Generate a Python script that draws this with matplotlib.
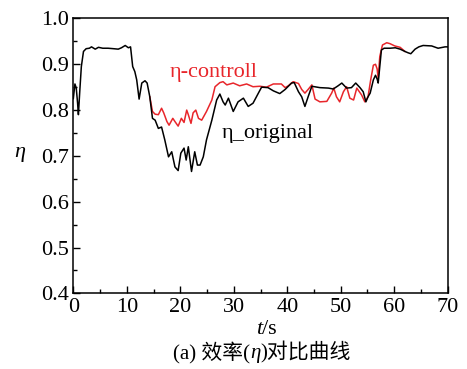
import matplotlib
matplotlib.use('Agg')
import matplotlib.pyplot as plt
from matplotlib.ticker import MultipleLocator
from matplotlib.offsetbox import TextArea, HPacker, AnchoredOffsetbox

# original efficiency curve (black)
t_orig = [0.0, 0.3, 0.55, 0.8, 0.95, 1.2, 1.5, 1.9, 2.4, 3.0, 3.4, 4.1, 4.7, 5.5, 6.5,
          7.5, 8.4, 9.0, 9.7, 10.3, 10.7, 11.1, 11.5, 11.85, 12.3, 12.8, 13.4, 13.8,
          14.3, 14.8, 15.3, 15.9, 16.5, 17.1, 17.8, 18.4, 19.0, 19.6, 20.1, 20.7, 21.1,
          21.5, 22.1, 22.7, 23.2, 23.7, 24.3, 24.9, 25.9, 26.8, 27.4, 28.0, 28.4, 29.0,
          29.9, 30.8, 31.8, 32.7, 33.6, 34.6, 35.2, 36.4, 37.4, 38.6, 39.6, 40.8, 41.3,
          42.1, 42.7, 43.3, 43.9, 44.6, 46.1, 47.7, 48.6, 49.5, 50.2, 51.1, 52.0, 52.8,
          53.6, 54.2, 54.7, 55.1, 55.5, 56.1, 56.5, 56.8, 57.0, 57.3, 57.6, 58.1, 59.2,
          60.2, 61.1, 62.0, 62.6, 63.1, 63.9, 64.6, 65.4, 67.0, 68.2, 69.5, 70.0]
eta_orig = [0.825, 0.857, 0.848, 0.815, 0.790, 0.840, 0.895, 0.928, 0.934, 0.935, 0.938,
            0.933, 0.937, 0.935, 0.935, 0.934, 0.933, 0.936, 0.941, 0.936, 0.938, 0.895,
            0.884, 0.866, 0.824, 0.859, 0.864, 0.859, 0.829, 0.782, 0.778, 0.760, 0.763,
            0.735, 0.698, 0.709, 0.676, 0.668, 0.706, 0.717, 0.691, 0.720, 0.666, 0.709,
            0.680, 0.680, 0.698, 0.735, 0.778, 0.822, 0.835, 0.818, 0.811, 0.826, 0.797,
            0.818, 0.826, 0.808, 0.815, 0.837, 0.850, 0.849, 0.842, 0.836, 0.845, 0.859,
            0.860, 0.840, 0.829, 0.808, 0.829, 0.852, 0.849, 0.848, 0.846, 0.853, 0.859,
            0.848, 0.849, 0.859, 0.849, 0.840, 0.818, 0.829, 0.837, 0.866, 0.876, 0.868,
            0.859, 0.895, 0.931, 0.935, 0.935, 0.936, 0.933, 0.928, 0.925, 0.923, 0.933,
            0.938, 0.941, 0.940, 0.935, 0.938, 0.938]

# controlled efficiency curve (red), only where it leaves the black one
t_ctrl = [14.3, 14.8, 15.3, 15.9, 16.5, 16.9, 17.5, 17.9, 18.6, 19.0, 19.6, 20.2, 20.7,
          21.2, 21.5, 22.0, 22.4, 22.9, 23.4, 24.0, 24.9, 25.9, 26.5, 27.4, 28.0, 28.7,
          29.9, 31.1, 32.4, 33.6, 34.9, 36.1, 37.4, 38.9, 39.6, 40.2, 41.1, 42.1, 42.7,
          43.3, 43.9, 44.6, 45.2, 46.1, 47.4, 48.3, 48.7, 49.2, 49.8, 50.5, 51.1, 51.7,
          52.4, 53.0, 53.9, 54.5, 55.1, 55.6, 56.1, 56.5, 56.8, 57.0, 57.3, 57.8, 58.6,
          59.2, 60.1, 61.1, 62.0]
eta_ctrl = [0.829, 0.797, 0.791, 0.790, 0.804, 0.794, 0.775, 0.767, 0.782, 0.775, 0.765,
            0.782, 0.773, 0.800, 0.790, 0.771, 0.794, 0.800, 0.782, 0.778, 0.797, 0.822,
            0.851, 0.860, 0.862, 0.855, 0.859, 0.853, 0.857, 0.851, 0.852, 0.850, 0.857,
            0.857, 0.849, 0.853, 0.862, 0.858, 0.845, 0.837, 0.845, 0.855, 0.824, 0.818,
            0.819, 0.837, 0.848, 0.829, 0.818, 0.840, 0.851, 0.826, 0.822, 0.848, 0.833,
            0.818, 0.829, 0.866, 0.898, 0.900, 0.890, 0.869, 0.917, 0.942, 0.947, 0.945,
            0.940, 0.937, 0.928]

serif = ['Liberation Serif', 'DejaVu Serif']
cjk = ['Liberation Serif', 'Noto Sans CJK SC']
plt.rcParams['font.family'] = serif

fig = plt.figure(figsize=(4.67, 3.69), dpi=100)
ax = fig.add_axes([0.157, 0.205, 0.8017, 0.745])

ax.plot(t_ctrl, eta_ctrl, color='#e8262b', lw=1.1)
ax.plot(t_orig, eta_orig, color='black', lw=1.1)

ax.set_xlim(0, 70)
ax.set_ylim(0.4, 1.0)
ax.xaxis.set_major_locator(MultipleLocator(10))
ax.xaxis.set_minor_locator(MultipleLocator(5))
ax.yaxis.set_major_locator(MultipleLocator(0.1))
ax.yaxis.set_minor_locator(MultipleLocator(0.05))
ax.yaxis.set_major_formatter(plt.FuncFormatter(lambda v, p: f'{v:.1f}'))
ax.tick_params(which='both', direction='in', labelsize=16, width=1.0, pad=3)
ax.tick_params(which='major', length=5)
ax.tick_params(which='minor', length=3)
for s in ax.spines.values():
    s.set_linewidth(1.1)

ax.text(18.1, 0.873, 'η-controll', color='#e8262b', fontsize=16, ha='left', va='baseline')
ax.text(27.8, 0.739, 'η_original', color='black', fontsize=16, ha='left', va='baseline')

fig.text(20 / 467, 1 - 152 / 369, 'η', fontsize=16, style='italic', ha='center', va='center')

xl = HPacker(children=[TextArea('t', textprops=dict(fontsize=16, style='italic', family=serif)),
                       TextArea('/s', textprops=dict(fontsize=16, family=serif))],
             pad=0, sep=0, align='baseline')
fig.add_artist(AnchoredOffsetbox(loc='center', child=xl, frameon=False, pad=0, borderpad=0,
                                 bbox_to_anchor=(266 / 467, 1 - 330 / 369),
                                 bbox_transform=fig.transFigure))

cap = HPacker(children=[TextArea('(a) 效率(', textprops=dict(fontsize=15, family=cjk)),
                        TextArea('η', textprops=dict(fontsize=15, style='italic', family=serif)),
                        TextArea(')对比曲线', textprops=dict(fontsize=15, family=cjk))],
              pad=0, sep=0, align='baseline')
fig.add_artist(AnchoredOffsetbox(loc='center', child=cap, frameon=False, pad=0, borderpad=0,
                                 bbox_to_anchor=(262 / 467, 1 - 352 / 369),
                                 bbox_transform=fig.transFigure))

fig.savefig('out.png', dpi=100)
